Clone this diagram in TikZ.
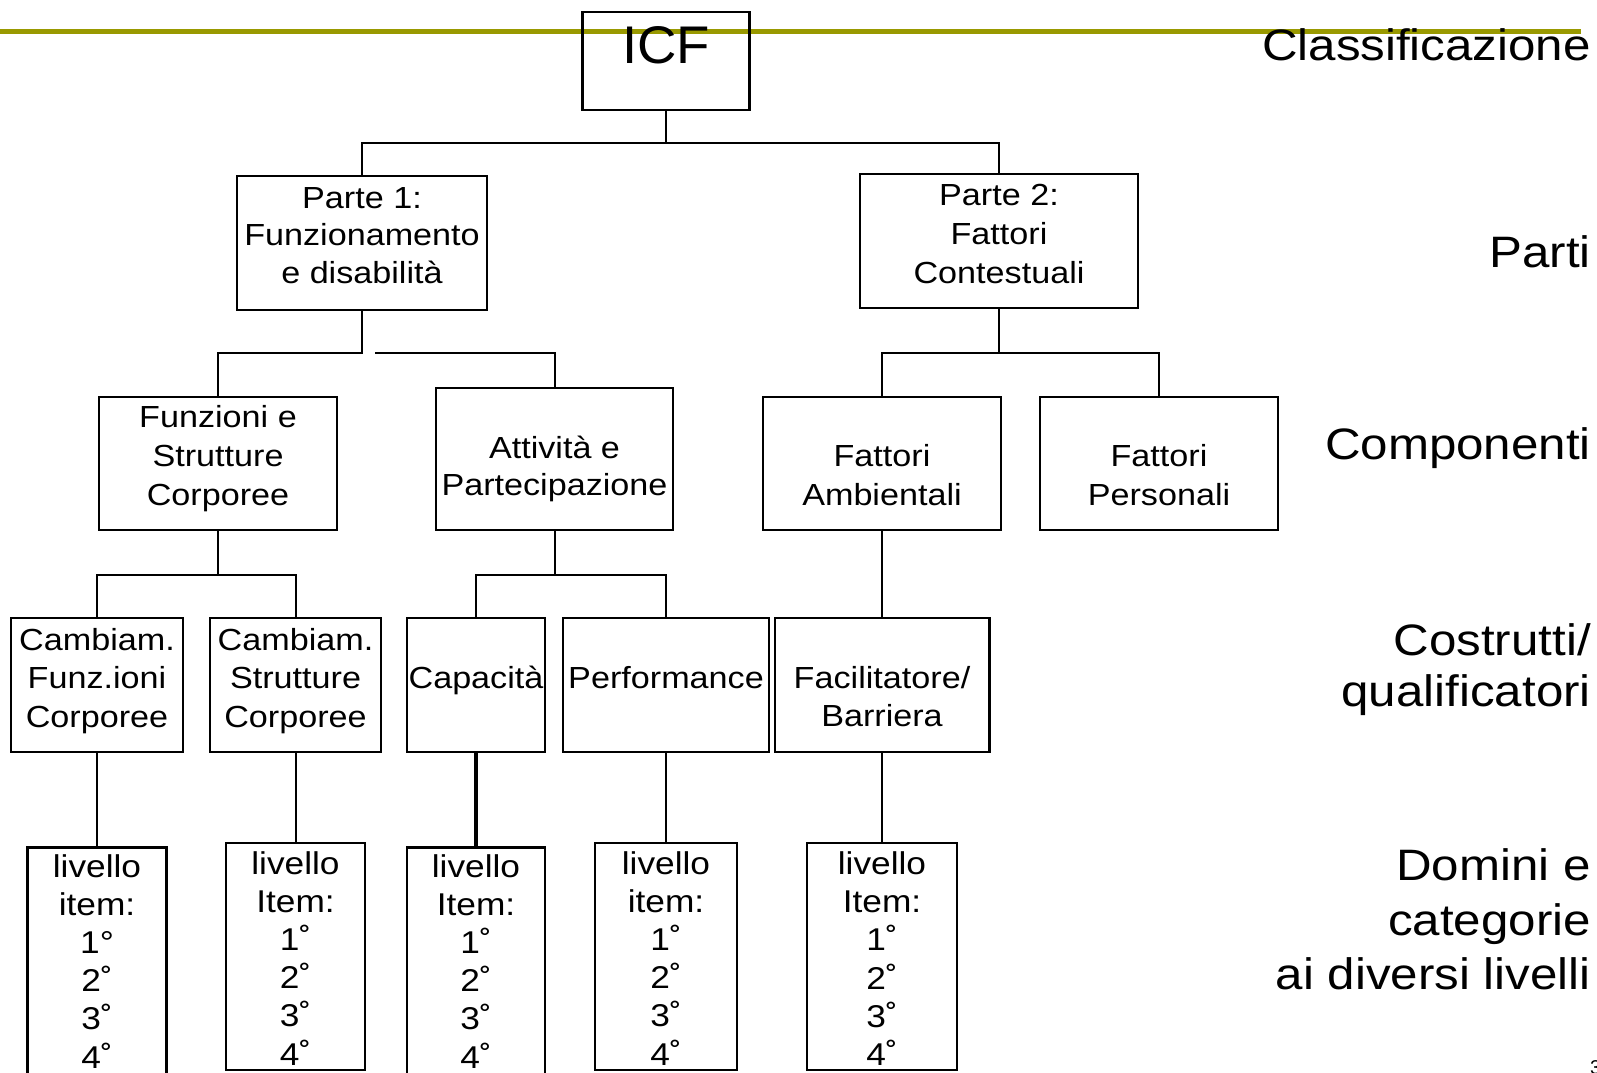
\documentclass[tikz,border=0pt]{standalone}
\usepackage{fontspec}
\setmainfont{Liberation Sans}
\newfontfamily\boxfont{Liberation Sans}[FakeStretch=1.12]
\newfontfamily\labfont{Liberation Sans}[FakeStretch=1.12]
\newfontfamily\icffont{Liberation Sans}[FakeStretch=1.03]
\definecolor{olivebar}{RGB}{153,153,0}
\newcommand\tup{\rule{0pt}{45pt}}
\newcommand\tdn{\rule[-45pt]{0pt}{45pt}}
\newcommand\tbo{\rule[-45pt]{0pt}{90pt}}
\newcommand\dg{\char"02DA}
\begin{document}
\begin{tikzpicture}[x=1pt,y=-1pt,
  bx/.style={draw,rectangle,line width=2.4pt,inner sep=0pt},
  con/.style={line width=2pt},
  txt/.style={inner sep=0pt,align=center,font=\boxfont\fontsize{30.5}{38.5}\selectfont},
  lv/.style={inner sep=0pt,align=center,font=\boxfont\fontsize{31.5}{38.2}\selectfont},
  lab/.style={inner sep=0pt,align=right,anchor=east,font=\labfont\fontsize{44}{48}\selectfont}]
\useasboundingbox (0,0) rectangle (1597,1072);
% top olive bar
\coordinate (barL) at (0,31.5);
\coordinate (barR) at (1581,31.5);
\draw[olivebar,line width=4.2pt] (barL) -- (barR);

% boxes
\node[bx,minimum width=167pt,minimum height=98pt] (icf) at (666,61) {};
\node[bx,minimum width=250pt,minimum height=134pt] (p1) at (362,243) {};
\node[bx,minimum width=278pt,minimum height=134pt] (p2) at (999,241) {};
\node[bx,minimum width=237.5pt,minimum height=133pt] (fs) at (218,463.5) {};
\node[bx,minimum width=237pt,minimum height=142pt] (ap) at (554.5,459) {};
\node[bx,minimum width=237.6pt,minimum height=133pt] (fa) at (882,463.5) {};
\node[bx,minimum width=237.5pt,minimum height=133pt] (fp) at (1159,463.5) {};
\node[bx,minimum width=172pt,minimum height=134pt] (cf) at (97,685) {};
\node[bx,minimum width=171pt,minimum height=134pt] (cs) at (295.5,685) {};
\node[bx,minimum width=138pt,minimum height=134pt] (ca) at (476,685) {};
\node[bx,minimum width=206pt,minimum height=134pt] (pe) at (666,685) {};
\node[bx,minimum width=214.6pt,minimum height=134pt] (fb) at (882,685) {};
\node[bx,line width=2.2pt,minimum width=139pt,minimum height=227pt] (l1) at (97,961) {};
\node[bx,line width=2.2pt,minimum width=139pt,minimum height=227pt] (l2) at (295.5,956.5) {};
\node[bx,line width=2.2pt,minimum width=138pt,minimum height=227pt] (l3) at (476,961) {};
\node[bx,line width=2.2pt,minimum width=142pt,minimum height=227pt] (l4) at (666,956.5) {};
\node[bx,line width=2.2pt,minimum width=150pt,minimum height=227pt] (l5) at (882,956.5) {};

% texts in boxes
\node[inner sep=0pt,font=\icffont\fontsize{53}{60}\selectfont] (icft) at (666,63) {\tbo ICF};
\node[txt,font=\boxfont\fontsize{30.5}{37.5}\selectfont] (p1t) at (362,245.5) {\tup Parte 1:\\Funzionamento\\e disabilità\tdn};
\node[txt,font=\boxfont\fontsize{30.5}{39}\selectfont] (p2t) at (999,244) {\tup Parte 2:\\Fattori\\Contestuali\tdn};
\node[txt,font=\boxfont\fontsize{30.5}{39}\selectfont] (fst) at (218,466) {\tup Funzioni e\\Strutture\\Corporee\tdn};
\node[txt,font=\boxfont\fontsize{30.5}{37}\selectfont] (apt) at (554.5,476.5) {\tup Attività e\\Partecipazione\tdn};
\node[txt] (fat) at (882,485.8) {\tup Fattori\\Ambientali\tdn};
\node[txt] (fpt) at (1159,485.8) {\tup Fattori\\Personali\tdn};
\node[txt] (cft) at (97,688.5) {\tup Cambiam.\\Funz.ioni\\Corporee\tdn};
\node[txt] (cst) at (295.5,688.5) {\tup Cambiam.\\Strutture\\Corporee\tdn};
\node[txt] (cat) at (476,688) {\tbo Capacità};
\node[txt] (pet) at (666,688) {\tbo Performance};
\node[txt] (fbt) at (882,707.5) {\tup Facilitatore/\\Barriera\tdn};
\node[lv] (l1t) at (97,972.5) {\tup livello\\item:\\1°\\2\dg\\3\dg\\4\dg\tdn};
\node[lv] (l2t) at (295.5,969.5) {\tup livello\\Item:\\1\dg\\2\dg\\3\dg\\4\dg\tdn};
\node[lv] (l3t) at (476,972.5) {\tup livello\\Item:\\1\dg\\2\dg\\3\dg\\4\dg\tdn};
\node[lv] (l4t) at (666,969.5) {\tup livello\\item:\\1\dg\\2\dg\\3\dg\\4\dg\tdn};
\node[lv] (l5t) at (882,970) {\tup livello\\Item:\\1\dg\\2\dg\\3\dg\\4\dg\tdn};

% right-hand labels
\node[lab] (lclass) at (1591,60) {\tbo Classificazione};
\node[lab] (lparti) at (1591,267) {\tbo Parti};
\node[lab] (lcomp) at (1591,459) {\tbo Componenti};
\node[lab,font=\labfont\fontsize{44}{51.5}\selectfont] (lcost) at (1591,681) {\tup Costrutti/\\qualificatori\tdn};
\node[lab,font=\labfont\fontsize{44}{54.5}\selectfont] (ldom) at (1591,935) {\tup Domini e\\categorie\\ai diversi livelli\tdn};
\node[inner sep=0pt,anchor=base west,font=\fontsize{20}{24}\selectfont] (pg) at (1590,1074) {3};

% connectors
\coordinate (j0) at (666,143);
\draw[con] (icf.south) -- (j0);
\draw[con] (j0) -| (p1.north);
\draw[con] (j0) -| (p2.north);
\coordinate (j1) at (362,353);
\coordinate (j1b) at (375,353);
\draw[con] (p1.south) -- (j1) -| (fs.north);
\draw[con] (j1b) -| (ap.north);
\coordinate (j2) at (999,353);
\draw[con] (p2.south) -- (j2);
\draw[con] (j2) -| (fa.north);
\draw[con] (j2) -| (fp.north);
\coordinate (j3) at (218,575);
\draw[con] (fs.south) -- (j3);
\draw[con] (j3) -| (cf.north);
\draw[con] (j3) -| (cs.north);
\coordinate (j4) at (554.5,575);
\draw[con] (ap.south) -- (j4);
\draw[con] (j4) -| (ca.north);
\draw[con] (j4) -| (pe.north);
\draw[con] (fa.south) -- (fb.north);
\draw[con] (cf.south) -- (l1.north);
\draw[con] (cs.south) -- (l2.north);
\draw[con,line width=3.2pt] (ca.south) -- (l3.north);
\draw[con] (pe.south) -- (l4.north);
\draw[con] (fb.south) -- (l5.north);
\end{tikzpicture}
\end{document}
